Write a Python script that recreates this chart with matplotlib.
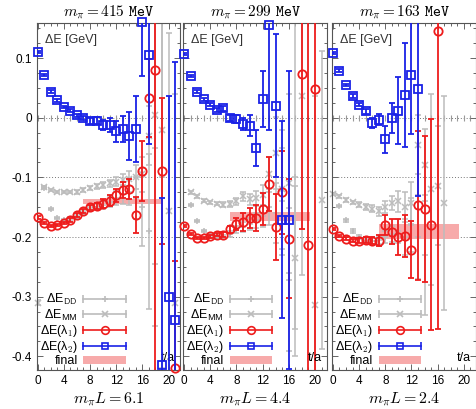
import matplotlib
matplotlib.use('Agg')
import matplotlib.pyplot as plt
import numpy as np
from matplotlib.lines import Line2D
from matplotlib.patches import Patch
from matplotlib.legend_handler import HandlerLine2D
from matplotlib.ticker import MultipleLocator, FuncFormatter

plt.rcParams['font.family'] = ['Liberation Sans', 'DejaVu Sans']
plt.rcParams['mathtext.fontset'] = 'cm'

titles = ['415', '299', '163']
mpiL = ['6.1', '4.4', '2.4']

# ---- m_pi = 415 MeV ----
l1_415_t = [0, 1, 2, 3, 4, 5, 6, 7, 8, 9, 10, 11, 12, 13, 14, 15, 16, 17, 18, 19, 21]
l1_415_v = [-0.167, -0.176, -0.181, -0.180, -0.176, -0.171, -0.163, -0.156, -0.150, -0.148, -0.144,
            -0.139, -0.130, -0.121, -0.120, -0.163, -0.089, 0.033, 0.080, -0.089, -0.420]
l1_415_e = [0.002, 0.002, 0.002, 0.002, 0.002, 0.003, 0.003, 0.003, 0.004, 0.005, 0.007,
            0.009, 0.011, 0.014, 0.017, 0.030, 0.050, 0.065, 0.600, 0.122, 0.180]
l2_415_t = [0, 1, 2, 3, 4, 5, 6, 7, 8, 9, 10, 11, 12, 13, 14, 15, 16, 17, 19, 20, 21]
l2_415_v = [0.110, 0.072, 0.044, 0.029, 0.018, 0.012, 0.004, 0.000, -0.006, -0.005, -0.012,
            -0.012, -0.023, -0.019, -0.031, -0.019, 0.160, 0.106, -0.414, -0.300, -0.339]
l2_415_e = [0.002, 0.002, 0.002, 0.002, 0.002, 0.003, 0.003, 0.003, 0.005, 0.006, 0.009,
            0.012, 0.018, 0.022, 0.040, 0.055, 0.090, 0.150, 0.280, 0.336, 0.433]
mm_415_t = [0, 1, 2, 3, 4, 5, 6, 7, 8, 9, 10, 11, 12, 13, 14, 15, 16, 17, 18, 19, 20, 21]
mm_415_v = [-0.310, -0.116, -0.121, -0.124, -0.124, -0.124, -0.124, -0.121, -0.118, -0.115, -0.113,
            -0.110, -0.107, -0.104, -0.102, -0.100, -0.095, -0.030, 0.005, -0.020, -0.157, -0.310]
mm_415_e = [0.004, 0.002, 0.002, 0.002, 0.002, 0.002, 0.003, 0.003, 0.003, 0.004, 0.005,
            0.006, 0.008, 0.010, 0.013, 0.020, 0.030, 0.050, 0.250, 0.400, 0.300, 0.350]
dd_415_t = [1, 2, 3, 4, 5, 6, 7, 8, 9, 10, 11, 12, 13, 14, 15, 16, 17, 18, 19]
dd_415_v = [-0.117, -0.153, -0.168, -0.172, -0.170, -0.165, -0.158, -0.152, -0.149, -0.146,
            -0.141, -0.134, -0.128, -0.125, -0.135, -0.150, -0.190, -0.050, -0.100]
dd_415_e = [0.002, 0.002, 0.002, 0.002, 0.003, 0.003, 0.003, 0.004, 0.005, 0.007,
            0.009, 0.012, 0.016, 0.022, 0.035, 0.065, 0.130, 0.300, 0.450]

# ---- m_pi = 299 MeV ----
l1_299_t = [0, 1, 2, 3, 4, 5, 6, 7, 8, 9, 10, 11, 12, 13, 14, 15, 16, 18, 19, 20]
l1_299_v = [-0.182, -0.195, -0.202, -0.202, -0.199, -0.196, -0.196, -0.187, -0.178, -0.1745,
            -0.168, -0.168, -0.153, -0.111, -0.183, -0.125, -0.203, 0.074, -0.214, 0.048]
l1_299_e = [0.002, 0.002, 0.002, 0.002, 0.003, 0.003, 0.004, 0.006, 0.010, 0.015,
            0.017, 0.022, 0.027, 0.045, 0.055, 0.070, 0.100, 0.260, 0.600, 0.600]
l2_299_t = [0, 1, 2, 3, 4, 5, 6, 7, 8, 9, 10, 11, 12, 13, 14, 15, 16]
l2_299_v = [0.107, 0.0705, 0.044, 0.031, 0.022, 0.013, 0.016, 0.000, -0.002, -0.010,
            -0.013, -0.051, 0.031, 0.155, 0.020, -0.171, -0.172]
l2_299_e = [0.002, 0.002, 0.002, 0.003, 0.003, 0.004, 0.004, 0.005, 0.007, 0.010,
            0.018, 0.030, 0.047, 0.175, 0.120, 0.165, 0.250]
mm_299_t = [1, 2, 3, 4, 5, 6, 7, 8, 9, 10, 11, 12, 13, 14, 15, 16, 17, 18, 20, 21]
mm_299_v = [-0.125, -0.132, -0.139, -0.142, -0.144, -0.146, -0.144, -0.140, -0.132, -0.137,
            -0.135, -0.130, -0.095, -0.059, -0.120, -0.110, -0.235, 0.036, -0.314, -0.138]
mm_299_e = [0.002, 0.002, 0.002, 0.003, 0.003, 0.004, 0.005, 0.006, 0.008, 0.010,
            0.013, 0.018, 0.030, 0.060, 0.100, 0.150, 0.120, 0.300, 0.350, 0.250]
dd_299_t = [1, 2, 3, 4, 5, 6, 7, 8, 9, 10, 11, 12, 13, 14, 15, 16, 17]
dd_299_v = [-0.146, -0.173, -0.190, -0.198, -0.200, -0.200, -0.195, -0.188, -0.183, -0.178,
            -0.172, -0.165, -0.150, -0.160, -0.140, -0.272, -0.100]
dd_299_e = [0.002, 0.002, 0.002, 0.003, 0.003, 0.004, 0.005, 0.006, 0.008, 0.010,
            0.013, 0.018, 0.030, 0.050, 0.090, 0.120, 0.300]

# ---- m_pi = 163 MeV ----
l1_163_t = [0, 1, 2, 3, 4, 5, 6, 7, 8, 9, 10, 11, 12, 13, 14, 15, 16]
l1_163_v = [-0.187, -0.198, -0.2025, -0.206, -0.206, -0.205, -0.206, -0.206, -0.1795, -0.191,
            -0.200, -0.198, -0.221, -0.1465, -0.153, -0.1795, 0.145]
l1_163_e = [0.002, 0.002, 0.003, 0.003, 0.004, 0.005, 0.006, 0.009, 0.017, 0.021,
            0.030, 0.035, 0.048, 0.125, 0.122, 0.177, 0.500]
l2_163_t = [0, 1, 2, 3, 4, 5, 6, 7, 8, 9, 10, 11, 12, 13]
l2_163_v = [0.1085, 0.079, 0.055, 0.037, 0.022, 0.0106, -0.009, -0.0034, -0.036, -0.0006,
            0.0117, 0.0386, 0.072, 0.048]
l2_163_e = [0.002, 0.002, 0.002, 0.003, 0.003, 0.004, 0.008, 0.009, 0.023, 0.025,
            0.056, 0.087, 0.100, 0.180]
mm_163_t = [0, 1, 2, 3, 4, 5, 6, 7, 8, 9, 10, 11, 12, 13, 14, 15, 16, 17]
mm_163_v = [-0.1275, -0.132, -0.1376, -0.142, -0.146, -0.150, -0.1527, -0.157, -0.150, -0.143,
            -0.140, -0.150, -0.143, -0.045, -0.079, -0.120, -0.114, -0.143]
mm_163_e = [0.002, 0.002, 0.003, 0.003, 0.004, 0.005, 0.006, 0.008, 0.010, 0.012,
            0.018, 0.025, 0.035, 0.050, 0.060, 0.160, 0.100, 0.180]
dd_163_t = [1, 2, 3, 4, 5, 6, 7, 8, 9, 10, 11, 12, 13, 14]
dd_163_v = [-0.1477, -0.172, -0.190, -0.200, -0.205, -0.207, -0.205, -0.200, -0.195, -0.190,
            -0.200, -0.180, -0.200, -0.230]
dd_163_e = [0.002, 0.002, 0.003, 0.003, 0.004, 0.005, 0.007, 0.010, 0.014, 0.020,
            0.030, 0.045, 0.070, 0.100]

# final values (centre, half width) and fit range
final_c = [-0.140, -0.165, -0.191]
final_h = [0.0045, 0.0075, 0.0125]
final_t = [7.0, 19.2]

panels = [
    (l1_415_t, l1_415_v, l1_415_e, l2_415_t, l2_415_v, l2_415_e,
     mm_415_t, mm_415_v, mm_415_e, dd_415_t, dd_415_v, dd_415_e),
    (l1_299_t, l1_299_v, l1_299_e, l2_299_t, l2_299_v, l2_299_e,
     mm_299_t, mm_299_v, mm_299_e, dd_299_t, dd_299_v, dd_299_e),
    (l1_163_t, l1_163_v, l1_163_e, l2_163_t, l2_163_v, l2_163_e,
     mm_163_t, mm_163_v, mm_163_e, dd_163_t, dd_163_v, dd_163_e),
]

RED = '#ee1c1c'
BLUE = '#1a22e6'
GRAY = '#bcbcbc'
PINK = '#f7aaaa'


def draw(ax, t, v, e, col, mk, ms, z, bar_w, face='none'):
    # error bars are clipped to the frame, the symbols are not (as in gnuplot)
    ax.errorbar(t, v, yerr=e, fmt='none', ecolor=col, capsize=2.4, elinewidth=bar_w,
                capthick=bar_w, zorder=z)
    ax.plot(t, v, ls='none', marker=mk, ms=ms, mfc=face, mec=col, mew=bar_w,
            zorder=z + 0.1, clip_on=False)


fig = plt.figure(figsize=(4.77, 4.09), dpi=100)
lefts = [37 / 477, 183.5 / 477, 332.3 / 477]

for i, data in enumerate(panels):
    (l1t, l1v, l1e, l2t, l2v, l2e, mmt, mmv, mme, ddt, ddv, dde) = data
    ax = fig.add_axes([lefts[i], 0.0954, 0.3004, 0.8484])

    for y in (0, -0.1, -0.2):
        ax.axhline(y, color='#777777', ls=(0, (1, 2)), lw=0.7, zorder=1)
    ax.plot(np.arange(0, 23), np.zeros(23), ls='none', marker='|', ms=5,
            mew=0.8, color='#999999', zorder=1)

    ax.fill_between(final_t, final_c[i] - final_h[i], final_c[i] + final_h[i],
                    color=PINK, lw=0, zorder=1.5)

    draw(ax, ddt, ddv, dde, GRAY, '+', 5, 2, 1.1)
    draw(ax, mmt, mmv, mme, GRAY, 'x', 4, 2, 1.1)
    draw(ax, l1t, l1v, l1e, RED, 'o', 6, 3, 1.3)
    draw(ax, l2t, l2v, l2e, BLUE, 's', 5.3, 4, 1.3)

    ax.set_xlim(-0.1, 21.8)
    ax.set_ylim(-0.423, 0.159)
    ax.xaxis.set_major_locator(MultipleLocator(4))
    ax.xaxis.set_minor_locator(MultipleLocator(1))
    ax.yaxis.set_major_locator(MultipleLocator(0.1))
    ax.yaxis.set_minor_locator(MultipleLocator(0.025))
    ax.yaxis.set_major_formatter(FuncFormatter(lambda v, p: '0' if abs(v) < 1e-9 else f'{v:.1f}'))
    ax.tick_params(which='both', direction='in', top=True, right=True, colors='#666666',
                   labelcolor='black', labelsize=8.5, width=0.7)
    ax.tick_params(which='major', length=4)
    ax.tick_params(which='minor', length=2.5)
    if i > 0:
        ax.tick_params(labelleft=False)
    for s in ax.spines.values():
        s.set_color('#555555')
        s.set_linewidth(0.8)

    ax.set_title(r'$m_\pi = \mathtt{' + titles[i] + r'\ MeV}$', fontsize=11, pad=4)
    ax.set_xlabel(r'$m_\pi L = ' + mpiL[i] + '$', fontsize=11.5, labelpad=3)
    ax.text(0.055, 0.95, 'ΔE [GeV]', transform=ax.transAxes, fontsize=9,
            va='center', color='#333333')
    ax.text(0.965, 0.035, 't/a', transform=ax.transAxes, fontsize=9,
            ha='right', va='center')

    # legend: label on the left, errorbar-style handle on the right
    handles, hmap = [], {}
    for col, mk, ms in [(GRAY, '+', 5), (GRAY, 'x', 4), (RED, 'o', 5.5), (BLUE, 's', 5)]:
        bar = Line2D([], [], color=col, lw=1.2, marker='|', ms=6, mew=1.2)
        pt = Line2D([], [], ls='none', color=col, marker=mk, ms=ms, mfc='none', mew=1.2)
        hmap[bar] = HandlerLine2D(numpoints=2, marker_pad=0)
        handles.append((bar, pt))
    handles.append(Patch(facecolor=PINK, edgecolor='none'))
    labels = [r'ΔE$_\mathsf{DD}$', r'ΔE$_\mathsf{MM}$', r'ΔE(λ$_\mathsf{1}$)',
              r'ΔE(λ$_\mathsf{2}$)', 'final']
    ax.legend(handles, labels, handler_map=hmap, loc='lower left', frameon=False,
              markerfirst=False, fontsize=9, handlelength=3.4, handletextpad=0.45,
              labelspacing=0.02, borderpad=0.1, borderaxespad=0.1)

fig.savefig('out.png', dpi=100)
